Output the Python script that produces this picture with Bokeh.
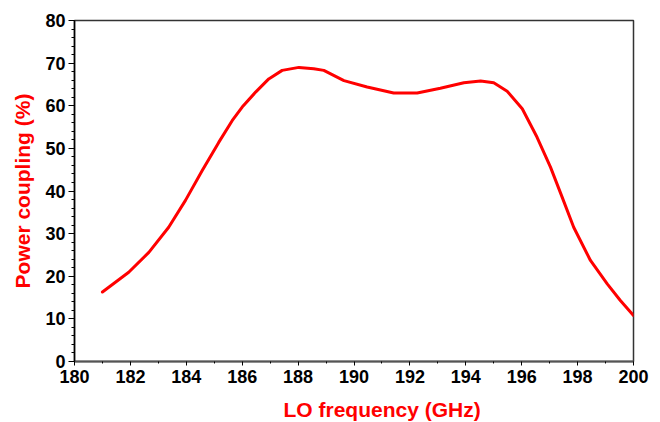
from bokeh.plotting import figure
from bokeh.models import FixedTicker, Range1d, Title
from bokeh.embed import file_html
from bokeh.resources import INLINE

# Data
freq_ghz = [181.0, 181.94, 182.66, 183.37, 183.97, 184.57, 185.16, 185.64, 186.0, 186.48,
            186.95, 187.43, 188.03, 188.56, 188.92, 189.64, 190.47, 191.42, 192.26, 193.09,
            193.93, 194.53, 195.0, 195.48, 196.02, 196.55, 197.03, 197.45, 197.86, 198.46,
            199.06, 199.53, 200.0]
coupling_pct = [16.3, 20.95, 25.6, 31.5, 37.8, 44.8, 51.4, 56.5, 59.7, 63.2,
                66.3, 68.3, 69.0, 68.7, 68.3, 65.9, 64.4, 63.0, 63.0, 64.1,
                65.4, 65.8, 65.4, 63.4, 59.3, 52.6, 45.6, 38.5, 31.5, 23.7,
                18.2, 14.3, 10.8]

x_major = [180, 182, 184, 186, 188, 190, 192, 194, 196, 198, 200]
x_minor = [181, 183, 185, 187, 189, 191, 193, 195, 197, 199]
y_major = [0, 10, 20, 30, 40, 50, 60, 70, 80]
y_minor = [v for v in range(0, 81, 2) if v % 10 != 0]

x_title = "LO frequency (GHz)"
y_title = "Power coupling (%)"

p = figure(width=660, height=422, output_backend="svg", toolbar_location=None,
           x_range=Range1d(180, 200), y_range=Range1d(0, 80),
           min_border_left=74, min_border_right=27, min_border_top=20, min_border_bottom=61)
p.background_fill_color = "white"
p.border_fill_color = "white"
p.xgrid.visible = False
p.ygrid.visible = False
p.outline_line_color = "#333333"
p.outline_line_width = 1.5

p.line(freq_ghz, coupling_pct, line_color="#ff0000", line_width=3,
       line_join="round", line_cap="round")

font = "Liberation Sans"
p.xaxis.ticker = FixedTicker(ticks=x_major, minor_ticks=x_minor)
p.yaxis.ticker = FixedTicker(ticks=y_major, minor_ticks=y_minor)

for ax in (p.xaxis[0], p.yaxis[0]):
    ax.major_label_text_font = font
    ax.major_label_text_font_style = "bold"
    ax.major_label_text_font_size = "18px"
    ax.major_label_text_color = "black"
    ax.axis_label_text_font = font
    ax.axis_label_text_font_style = "bold"
    ax.axis_label_text_font_size = "21px"
    ax.axis_label_text_color = "#ff0000"
    ax.axis_line_color = "black"
    ax.axis_line_width = 1.5
    ax.major_tick_line_color = "black"
    ax.minor_tick_line_color = "black"
    ax.major_tick_in = 0
    ax.minor_tick_in = 0

p.xaxis.axis_line_color = "#555555"
p.xaxis.axis_line_width = 2
p.xaxis.major_tick_out = 4
p.xaxis.minor_tick_out = 2
p.xaxis.major_label_standoff = 4

p.yaxis.axis_label = y_title
p.yaxis.major_tick_out = 6
p.yaxis.minor_tick_out = 3
p.yaxis.major_label_standoff = 3
p.yaxis.axis_label_standoff = 8

spacer = Title(text=" ", standoff=5, text_font_size="1px")
p.add_layout(spacer, "below")
xt = Title(text=x_title, align="left", offset=209, standoff=4,
           text_font=font, text_font_style="bold", text_font_size="21px",
           text_color="#ff0000")
p.add_layout(xt, "below")

open("out.html", "w").write(file_html(p, INLINE))
